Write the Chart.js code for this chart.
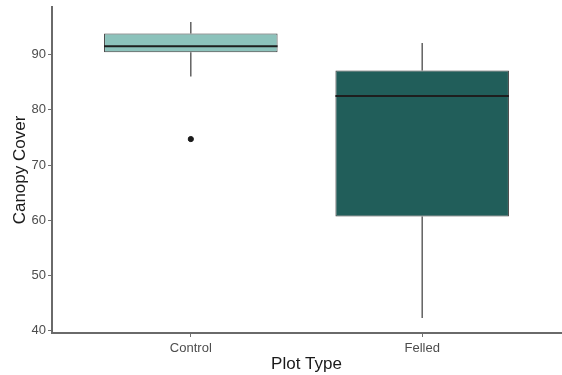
<!DOCTYPE html>
<html>
<head>
<meta charset="utf-8">
<script src="https://cdn.jsdelivr.net/npm/chart.js@4.4.1/dist/chart.umd.min.js"></script>
<style>
  html, body { margin: 0; padding: 0; background: #ffffff; }
  #wrap { width: 562px; height: 375px; }
</style>
</head>
<body>
<div id="wrap"><canvas id="c"></canvas></div>
<script>
// Canopy cover by plot type: five-number summaries plus outliers
const plotTypes    = ['Control', 'Felled'];
const lowerWhisker = [86.0, 42.3];
const q1           = [90.4, 60.7];
const median       = [91.5, 82.5];
const q3           = [93.8, 87.1];
const upperWhisker = [95.9, 92.1];
const outliers     = [[74.7], []];
const yTicks       = [40, 50, 60, 70, 80, 90];
const boxColors    = ['#8cc2bb', '#215e5a'];

const FONT = 'Liberation Sans, Arial, sans-serif';

// Whiskers go behind the boxes, medians on top of them
const boxPlotParts = {
  id: 'boxPlotParts',
  beforeDatasetsDraw(chart) {
    const { ctx, scales: { x, y } } = chart;
    ctx.save();
    ctx.strokeStyle = '#4a4a4a';
    ctx.lineWidth = 1.3;
    plotTypes.forEach((_, i) => {
      const px = x.getPixelForValue(i + 1);
      ctx.beginPath();
      ctx.moveTo(px, y.getPixelForValue(q3[i]));
      ctx.lineTo(px, y.getPixelForValue(upperWhisker[i]));
      ctx.moveTo(px, y.getPixelForValue(q1[i]));
      ctx.lineTo(px, y.getPixelForValue(lowerWhisker[i]));
      ctx.stroke();
    });
    ctx.restore();
  },
  afterDatasetsDraw(chart) {
    const { ctx, scales: { y } } = chart;
    const bars = chart.getDatasetMeta(0).data;
    ctx.save();
    ctx.strokeStyle = '#1e1e1e';
    ctx.lineWidth = 2;
    bars.forEach((bar, i) => {
      const py = y.getPixelForValue(median[i]);
      ctx.beginPath();
      ctx.moveTo(bar.x - bar.width / 2, py);
      ctx.lineTo(bar.x + bar.width / 2, py);
      ctx.stroke();
    });
    ctx.restore();
  }
};

const outlierPoints = [];
outliers.forEach((vals, i) => vals.forEach(v => outlierPoints.push({ x: i + 1, y: v })));

new Chart(document.getElementById('c'), {
  type: 'bar',
  data: {
    datasets: [
      {
        label: 'IQR',
        data: plotTypes.map((_, i) => ({ x: i + 1, y: [q1[i], q3[i]] })),
        backgroundColor: boxColors,
        borderColor: '#3a3a3a',
        borderWidth: 1,
        borderSkipped: false,
        barPercentage: 0.75,
        categoryPercentage: 1.0,
        order: 2
      },
      {
        type: 'scatter',
        label: 'Outliers',
        data: outlierPoints,
        backgroundColor: '#1a1a1a',
        borderColor: '#1a1a1a',
        pointRadius: 2.6,
        order: 1
      }
    ]
  },
  options: {
    responsive: true,
    maintainAspectRatio: false,
    animation: false,
    devicePixelRatio: 1,
    layout: { autoPadding: false, padding: { top: 7, right: 1, left: 0, bottom: 0 } },
    plugins: {
      legend: { display: false },
      tooltip: { enabled: false }
    },
    scales: {
      x: {
        type: 'linear',
        offset: false,
        min: 0.4,
        max: 2.6,
        afterBuildTicks: (scale) => { scale.ticks = plotTypes.map((_, i) => ({ value: i + 1 })); },
        afterFit: (scale) => { scale.height = 42; scale.paddingLeft = 0; scale.paddingRight = 0; },
        grid: { display: true, offset: false, drawOnChartArea: false, drawTicks: true, tickLength: 4, tickColor: '#707070', tickWidth: 1 },
        border: { display: true, color: '#6a6a6a', width: 2 },
        ticks: {
          autoSkip: false,
          maxRotation: 0,
          padding: 4,
          color: '#4d4d4d',
          font: { family: FONT, size: 13 },
          callback: (v) => plotTypes[v - 1]
        },
        title: {
          display: true,
          text: 'Plot Type',
          color: '#1a1a1a',
          font: { family: FONT, size: 17 },
          padding: { top: 0, bottom: 0 }
        }
      },
      y: {
        min: 39.6,
        max: 98.6,
        afterBuildTicks: (scale) => { scale.ticks = yTicks.map(v => ({ value: v })); },
        afterFit: (scale) => { scale.width = 52; scale.paddingTop = 0; scale.paddingBottom = 0; },
        grid: { display: true, drawOnChartArea: false, drawTicks: true, tickLength: 4, tickColor: '#707070', tickWidth: 1 },
        border: { display: true, color: '#6a6a6a', width: 2 },
        ticks: {
          padding: 2,
          color: '#4d4d4d',
          font: { family: FONT, size: 13 }
        },
        title: {
          display: true,
          text: 'Canopy Cover',
          color: '#1a1a1a',
          font: { family: FONT, size: 17 },
          padding: { top: 10, bottom: 0 }
        }
      }
    }
  },
  plugins: [boxPlotParts]
});
</script>
</body>
</html>
